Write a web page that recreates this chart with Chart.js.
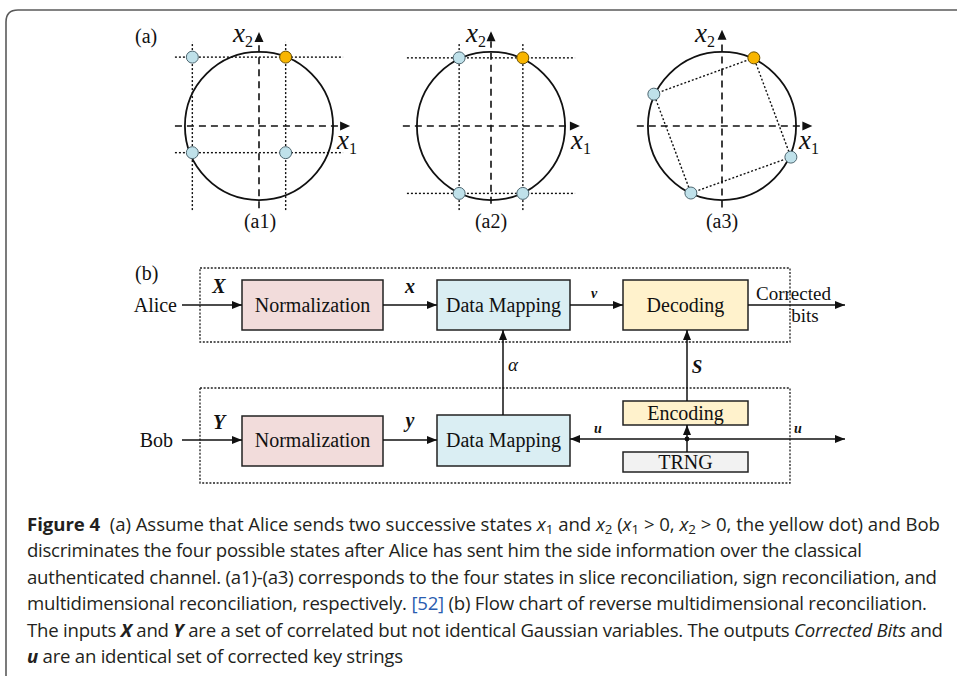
<!DOCTYPE html>
<html>
<head>
<meta charset="utf-8">
<script src="https://cdn.jsdelivr.net/npm/chart.js@4.4.0/dist/chart.umd.min.js"></script>
<style>
  html, body { margin: 0; padding: 0; background: #fff; }
  body { width: 957px; height: 676px; position: relative; overflow: hidden; }
  canvas.plane { position: absolute; }
  svg.fig { position: absolute; left: 0; top: 0; }
  .caption {
    position: absolute; left: 27px; top: 511px;
    font-family: "Open Sans", sans-serif; font-size: 18.6px; line-height: 26.4px;
    color: #231f20;
  }
  .caption div { white-space: nowrap; }
  .caption sub { font-size: 0.72em; vertical-align: -0.22em; line-height: 0; }
  .caption .ref { color: #2a5db0; }
</style>
</head>
<body>

<svg class="fig" width="957" height="676" viewBox="0 0 957 676">
  <defs>
    <marker id="ah" viewBox="0 0 10 8" refX="10" refY="4" markerWidth="10" markerHeight="8" markerUnits="userSpaceOnUse" orient="auto-start-reverse">
      <path d="M0,0 L10,4 L0,8 z" fill="#111"/>
    </marker>
  </defs>
  <!-- card outline -->
  <path d="M6,676 L6,22 Q6,10 18,10 L957,10" fill="none" stroke="#5a5a5a" stroke-width="1.6"/>

  <g font-family="'Liberation Serif', 'Times New Roman', serif" fill="#111">
    <!-- panel (a) labels -->
    <text x="135" y="43" font-size="20">(a)</text>
    <text x="233" y="42" font-size="27" font-style="italic">x<tspan font-size="16" font-style="normal" dy="5">2</tspan></text>
    <text x="337" y="149" font-size="27" font-style="italic">x<tspan font-size="16" font-style="normal" dy="5">1</tspan></text>
    <text x="260" y="228" font-size="20" text-anchor="middle">(a1)</text>
    <text x="466" y="42" font-size="27" font-style="italic">x<tspan font-size="16" font-style="normal" dy="5">2</tspan></text>
    <text x="571" y="149" font-size="27" font-style="italic">x<tspan font-size="16" font-style="normal" dy="5">1</tspan></text>
    <text x="491" y="228" font-size="20" text-anchor="middle">(a2)</text>
    <text x="695" y="42" font-size="27" font-style="italic">x<tspan font-size="16" font-style="normal" dy="5">2</tspan></text>
    <text x="799" y="149" font-size="27" font-style="italic">x<tspan font-size="16" font-style="normal" dy="5">1</tspan></text>
    <text x="722" y="228" font-size="20" text-anchor="middle">(a3)</text>

    <!-- panel (b): flow chart -->
    <text x="135" y="280" font-size="20">(b)</text>
    <rect x="200" y="268" width="590" height="74" fill="none" stroke="#222" stroke-width="1.3" stroke-dasharray="2,1.6"/>
    <rect x="200" y="388" width="590" height="95" fill="none" stroke="#222" stroke-width="1.3" stroke-dasharray="2,1.6"/>

    <g stroke="#222" stroke-width="1.5">
      <rect x="242" y="280" width="141" height="50" fill="#f2dcdb"/>
      <rect x="437" y="280" width="133" height="50" fill="#daeef3"/>
      <rect x="623" y="280" width="125" height="50" fill="#fff2cc"/>
      <rect x="242" y="416" width="141" height="50" fill="#f2dcdb"/>
      <rect x="437" y="415" width="133" height="51" fill="#daeef3"/>
      <rect x="623" y="401" width="125" height="24" fill="#fff2cc"/>
      <rect x="623" y="452" width="125" height="20" fill="#f2f2f2"/>
    </g>

    <g stroke="#111" stroke-width="1.5" fill="none">
      <line x1="182" y1="305" x2="242" y2="305" marker-end="url(#ah)"/>
      <line x1="383" y1="305" x2="437" y2="305" marker-end="url(#ah)"/>
      <line x1="570" y1="305" x2="623" y2="305" marker-end="url(#ah)"/>
      <line x1="748" y1="305" x2="845" y2="305" marker-end="url(#ah)"/>
      <line x1="182" y1="440" x2="242" y2="440" marker-end="url(#ah)"/>
      <line x1="383" y1="440" x2="437" y2="440" marker-end="url(#ah)"/>
      <line x1="503" y1="415" x2="503" y2="330" marker-end="url(#ah)"/>
      <line x1="687" y1="401" x2="687" y2="330" marker-end="url(#ah)"/>
      <line x1="570" y1="439" x2="845" y2="439" marker-start="url(#ah)" marker-end="url(#ah)"/>
      <line x1="687" y1="452" x2="687" y2="425" marker-end="url(#ah)"/>
    </g>
    <circle cx="687" cy="439" r="2.4" fill="#111"/>

    <g font-size="20">
      <text x="177" y="312" text-anchor="end">Alice</text>
      <text x="173" y="447" text-anchor="end">Bob</text>
      <text x="312.5" y="312" text-anchor="middle">Normalization</text>
      <text x="503.5" y="312" text-anchor="middle">Data Mapping</text>
      <text x="685.5" y="312" text-anchor="middle">Decoding</text>
      <text x="312.5" y="447" text-anchor="middle">Normalization</text>
      <text x="503.5" y="447" text-anchor="middle">Data Mapping</text>
      <text x="685.5" y="420" text-anchor="middle">Encoding</text>
      <text x="685.5" y="469" text-anchor="middle">TRNG</text>
      <text x="756" y="300" font-size="19">Corrected</text>
      <text x="805" y="322" font-size="19" text-anchor="middle">bits</text>
    </g>
    <g font-weight="bold" font-style="italic">
      <text x="219" y="293" font-size="20" text-anchor="middle">X</text>
      <text x="410" y="293" font-size="20" text-anchor="middle">x</text>
      <text x="594" y="298" font-size="14" text-anchor="middle">v</text>
      <text x="219" y="429" font-size="20" text-anchor="middle">Y</text>
      <text x="410" y="427" font-size="20" text-anchor="middle">y</text>
      <text x="697" y="373" font-size="19" text-anchor="middle">S</text>
      <text x="598" y="433" font-size="14" text-anchor="middle">u</text>
      <text x="798" y="433" font-size="14" text-anchor="middle">u</text>
    </g>
    <text x="513" y="371" font-size="19" font-style="italic" text-anchor="middle">α</text>
  </g>
</svg>

<canvas id="a1" class="plane" width="200" height="200" style="left:159px;top:26px"></canvas>
<canvas id="a2" class="plane" width="200" height="200" style="left:391px;top:26px"></canvas>
<canvas id="a3" class="plane" width="200" height="200" style="left:622px;top:26px"></canvas>

<div class="caption">
  <div data-w="913"><b>Figure 4</b>&nbsp; (a) Assume that Alice sends two successive states <i>x</i><sub>1</sub> and <i>x</i><sub>2</sub> (<i>x</i><sub>1</sub> &gt; 0, <i>x</i><sub>2</sub> &gt; 0, the yellow dot) and Bob</div>
  <div data-w="835">discriminates the four possible states after Alice has sent him the side information over the classical</div>
  <div data-w="910">authenticated channel. (a1)-(a3) corresponds to the four states in slice reconciliation, sign reconciliation, and</div>
  <div data-w="900">multidimensional reconciliation, respectively. <span class="ref">[52]</span> (b) Flow chart of reverse multidimensional reconciliation.</div>
  <div data-w="916">The inputs <b><i>X</i></b> and <b><i>Y</i></b> are a set of correlated but not identical Gaussian variables. The outputs <i>Corrected Bits</i> and</div>
  <div data-w="376"><b><i>u</i></b> are an identical set of corrected key strings</div>
</div>

<script>
// (a1) slice reconciliation: four candidate states, first one is Alice's
const a1PointX = [0.36, -0.90, -0.90, 0.36];
const a1PointY = [0.93, 0.93, -0.36, -0.36];
const a1GuideX = [-0.90, 0.36];   // vertical dotted guides
const a1GuideY = [0.93, -0.36];   // horizontal dotted guides

// (a2) sign reconciliation
const a2PointX = [0.43, -0.43, -0.43, 0.43];
const a2PointY = [0.92, 0.92, -0.91, -0.91];
const a2GuideX = [-0.43, 0.43];
const a2GuideY = [0.92, -0.91];

// (a3) multidimensional reconciliation: rotated square of states
const a3PointX = [0.43, -0.92, -0.42, 0.93];
const a3PointY = [0.92, 0.43, -0.905, -0.42];

const YELLOW = '#f8b500', BLUE = '#bfe1ea';
const INK = '#111111';

// circle of unit radius plus dashed coordinate axes with arrowheads
const planeDecor = {
  id: 'planeDecor',
  beforeDatasetsDraw(chart, args, opts) {
    const { ctx, scales: { x, y } } = chart;
    const cx = x.getPixelForValue(0), cy = y.getPixelForValue(0);
    const r = x.getPixelForValue(1) - cx;
    const xl = x.getPixelForValue(opts.xMin), xr = x.getPixelForValue(opts.xMax);
    const yb = y.getPixelForValue(opts.yMin), yt = y.getPixelForValue(opts.yMax);
    const head = 10, half = 4.5;
    ctx.save();
    ctx.strokeStyle = INK; ctx.fillStyle = INK;
    ctx.lineWidth = 1.6;
    ctx.setLineDash([7, 5]);
    ctx.beginPath();
    ctx.moveTo(xl, cy); ctx.lineTo(xr - head, cy);
    ctx.moveTo(cx, yb); ctx.lineTo(cx, yt + head);
    ctx.stroke();
    ctx.setLineDash([]);
    ctx.beginPath();
    ctx.moveTo(xr, cy); ctx.lineTo(xr - head, cy - half); ctx.lineTo(xr - head, cy + half); ctx.closePath();
    ctx.moveTo(cx, yt); ctx.lineTo(cx - half, yt + head); ctx.lineTo(cx + half, yt + head); ctx.closePath();
    ctx.fill();
    ctx.lineWidth = 1.8;
    ctx.beginPath(); ctx.arc(cx, cy, r, 0, Math.PI * 2); ctx.stroke();
    ctx.restore();
  }
};

function pairs(xs, ys) { return xs.map((v, i) => ({ x: v, y: ys[i] })); }

function stateSet(xs, ys) {
  return {
    data: pairs(xs, ys),
    pointRadius: 6,
    pointBorderWidth: 1,
    pointBackgroundColor: xs.map((_, i) => i === 0 ? YELLOW : BLUE),
    pointBorderColor: xs.map((_, i) => i === 0 ? '#6b5000' : '#4d6670'),
    showLine: false
  };
}

function dotted(data) {
  return { data, showLine: true, borderColor: INK, borderWidth: 1.4, borderDash: [2, 2], pointRadius: 0, fill: false };
}

function guideSets(gx, gy, span) {
  const sets = [];
  gx.forEach(v => sets.push(dotted([{ x: v, y: -span }, { x: v, y: span }])));
  gy.forEach(v => sets.push(dotted([{ x: -span, y: v }, { x: span, y: v }])));
  return sets;
}

function plane(id, datasets, axis) {
  new Chart(document.getElementById(id), {
    type: 'scatter',
    data: { datasets },
    options: {
      responsive: false, animation: false, devicePixelRatio: 1,
      layout: { padding: 0, autoPadding: false },
      scales: {
        x: { type: 'linear', min: -1.35, max: 1.35, display: false },
        y: { type: 'linear', min: -1.35, max: 1.35, display: false }
      },
      plugins: { legend: { display: false }, tooltip: { enabled: false }, planeDecor: axis }
    },
    plugins: [planeDecor]
  });
}

plane('a1', [stateSet(a1PointX, a1PointY), ...guideSets(a1GuideX, a1GuideY, 1.135)],
  { xMin: -1.135, xMax: 1.23, yMin: -1.11, yMax: 1.27 });
plane('a2', [stateSet(a2PointX, a2PointY), ...guideSets(a2GuideX, a2GuideY, 1.135)],
  { xMin: -1.19, xMax: 1.2, yMin: -1.05, yMax: 1.28 });
const a3Square = pairs(a3PointX.concat(a3PointX[0]), a3PointY.concat(a3PointY[0]));
plane('a3', [stateSet(a3PointX, a3PointY), dotted(a3Square)],
  { xMin: -1.15, xMax: 1.22, yMin: -1.1, yMax: 1.3 });

// fit each caption line to its column width
document.querySelectorAll('.caption div').forEach(el => {
  const target = +el.dataset.w;
  const n = el.textContent.length - 1;
  el.style.display = 'inline-block';
  const natural = el.getBoundingClientRect().width;
  el.style.letterSpacing = ((target - natural) / n) + 'px';
  el.style.display = 'block';
});
</script>
</body>
</html>
